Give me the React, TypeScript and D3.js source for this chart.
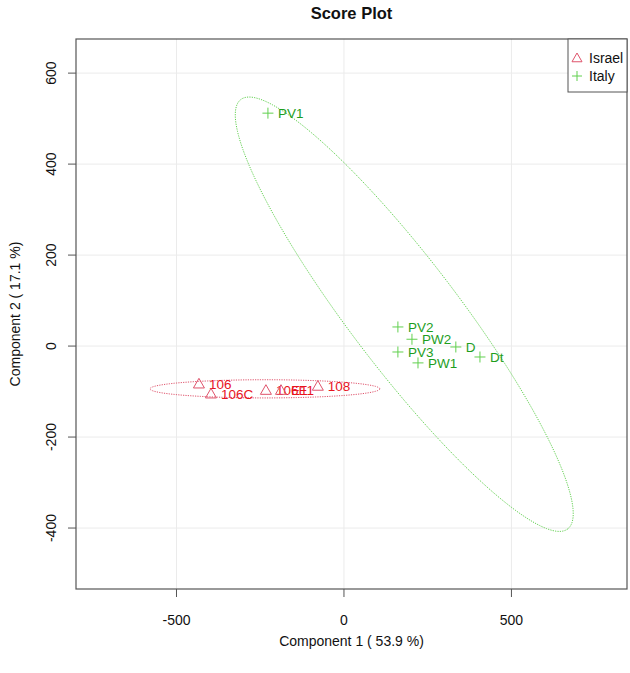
import React from "react";
import * as d3 from "d3";

const israelNames = ["106", "106C", "106E", "E11", "108"];
const israelX = [-433, -397, -233, -188, -78];
const israelY = [-83, -105, -97, -97, -88];

const italyNames = ["PV1", "PV2", "PW2", "D", "PV3", "PW1", "Dt"];
const italyX = [-227, 161, 203, 334, 161, 221, 406];
const italyY = [512, 42, 15, -2, -13, -37, -24];

// ellipse: center and two conjugate semi-axis vectors (data units)
const israelEllipse = { cx: -236, cy: -94, ux: 343, uy: 0, vx: 0, vy: 20 };
const italyEllipse = { cx: 180, cy: 70, ux: 488, uy: -472, vx: -128, vy: -72 };

const xTicks = [-500, 0, 500];
const yTicks = [-400, -200, 0, 200, 400, 600];
const xDomain = [-800, 845];
const yDomain = [-534, 675];

const W = 630, H = 673;
const L = 76, R = 627, T = 39, B = 589;
const RED = "#DF536B", GREEN = "#61D04F";
const RED_TXT = "#E8141E", GREEN_TXT = "#1E9E1E";
const FONT = "'Liberation Sans', Arial, Helvetica, sans-serif";

export default function App() {
  const x = d3.scaleLinear().domain(xDomain).range([L, R]);
  const y = d3.scaleLinear().domain(yDomain).range([B, T]);

  const ellipsePath = (e: any) => {
    const pts: [number, number][] = d3.range(0, 361, 2).map((deg) => {
      const t = (deg * Math.PI) / 180;
      const dx = e.cx + Math.cos(t) * e.ux + Math.sin(t) * e.vx;
      const dy = e.cy + Math.cos(t) * e.uy + Math.sin(t) * e.vy;
      return [x(dx), y(dy)];
    });
    return d3.line()(pts) + "Z";
  };

  const tri = (cx: number, cy: number, s = 5.5) =>
    `M${cx},${cy - s}L${cx + s},${cy + s * 0.75}L${cx - s},${cy + s * 0.75}Z`;
  const plus = (cx: number, cy: number, s = 5.5) =>
    `M${cx - s},${cy}L${cx + s},${cy}M${cx},${cy - s}L${cx},${cy + s}`;

  return (
    <svg width={W} height={H} style={{ position: "absolute", left: 0, top: 0 }} fontFamily={FONT}>
      <rect width={W} height={H} fill="white" />
      <defs>
        <clipPath id="plotclip">
          <rect x={L} y={T} width={R - L} height={B - T} />
        </clipPath>
      </defs>
      {/* grid */}
      {xTicks.map((t) => (
        <line key={"gx" + t} x1={x(t)} x2={x(t)} y1={T} y2={B} stroke="#ebebeb" strokeWidth={1} />
      ))}
      {yTicks.map((t) => (
        <line key={"gy" + t} x1={L} x2={R} y1={y(t)} y2={y(t)} stroke="#ebebeb" strokeWidth={1} />
      ))}
      {/* ellipses */}
      <g clipPath="url(#plotclip)">
        <path d={ellipsePath(israelEllipse)} fill="none" stroke={RED} strokeWidth={1} strokeDasharray="1.2,1.2" />
        <path d={ellipsePath(italyEllipse)} fill="none" stroke={GREEN} strokeWidth={1} strokeDasharray="1.2,1.2" />
      </g>
      {/* points */}
      {israelX.map((v, i) => (
        <g key={"is" + i}>
          <path d={tri(x(v), y(israelY[i]))} fill="none" stroke={RED} strokeWidth={1} />
          <text x={x(v) + 10} y={y(israelY[i])} dy="0.35em" fontSize={13.5} fill={RED_TXT}>
            {israelNames[i]}
          </text>
        </g>
      ))}
      {italyX.map((v, i) => (
        <g key={"it" + i}>
          <path d={plus(x(v), y(italyY[i]))} fill="none" stroke={GREEN} strokeWidth={1} />
          <text x={x(v) + 10} y={y(italyY[i])} dy="0.35em" fontSize={13.5} fill={GREEN_TXT}>
            {italyNames[i]}
          </text>
        </g>
      ))}
      {/* box */}
      <rect x={L} y={T} width={R - L} height={B - T} fill="none" stroke="#555" strokeWidth={1.2} />
      {/* x axis */}
      {xTicks.map((t) => (
        <g key={"xt" + t}>
          <line x1={x(t)} x2={x(t)} y1={B} y2={B + 8} stroke="#555" />
          <text x={x(t)} y={B + 36} textAnchor="middle" fontSize={14} fill="#111">
            {t}
          </text>
        </g>
      ))}
      {yTicks.map((t) => (
        <g key={"yt" + t}>
          <line x1={L} x2={L - 8} y1={y(t)} y2={y(t)} stroke="#555" />
          <text
            transform={`translate(${L - 20},${y(t)}) rotate(-90)`}
            textAnchor="middle"
            fontSize={14}
            fill="#111"
          >
            {t}
          </text>
        </g>
      ))}
      <text x={(L + R) / 2} y={646} textAnchor="middle" fontSize={14} fill="#111">
        Component 1 ( 53.9 %)
      </text>
      <text
        transform={`translate(20,${(T + B) / 2}) rotate(-90)`}
        textAnchor="middle"
        fontSize={14}
        fill="#111"
      >
        Component 2 ( 17.1 %)
      </text>
      <text x={(L + R) / 2} y={19} textAnchor="middle" fontSize={16.5} fontWeight="bold" fill="#111">
        Score Plot
      </text>
      {/* legend */}
      <rect x={568} y={T} width={R - 568} height={53} fill="white" stroke="#555" strokeWidth={1} />
      <path d={tri(577, 58, 5)} fill="none" stroke={RED} strokeWidth={1} />
      <text x={589} y={58} dy="0.35em" fontSize={14} fill="#111">Israel</text>
      <path d={plus(577, 76, 5)} fill="none" stroke={GREEN} strokeWidth={1} />
      <text x={589} y={76} dy="0.35em" fontSize={14} fill="#111">Italy</text>
    </svg>
  );
}
